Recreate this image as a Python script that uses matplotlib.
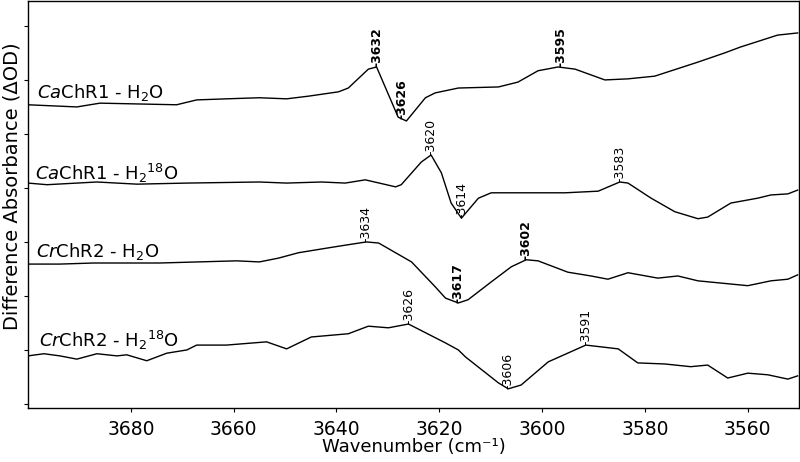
import numpy as np
import matplotlib
matplotlib.use("Agg")
import matplotlib.pyplot as plt

# traces (wavenumber, offset difference absorbance)
x1 = [3700.0, 3690.5, 3686.0, 3671.1, 3667.2, 3661.4, 3655.0, 3649.7, 3645.4, 3639.6,
      3637.7, 3633.8, 3632.2, 3628.0, 3626.4, 3622.7, 3620.8, 3616.3, 3608.5, 3604.7,
      3600.8, 3596.9, 3593.6, 3587.8, 3583.3, 3578.1, 3569.7, 3564.5, 3561.4, 3554.2, 3550.3]
y1 = [5.54, 5.50, 5.57, 5.54, 5.63, 5.65, 5.67, 5.65, 5.70, 5.78,
      5.85, 6.20, 6.24, 5.31, 5.24, 5.67, 5.76, 5.85, 5.87, 5.96,
      6.17, 6.24, 6.20, 6.00, 6.02, 6.07, 6.33, 6.50, 6.61, 6.83, 6.87]

x2 = [3700.0, 3696.3, 3686.6, 3678.8, 3669.1, 3655.0, 3649.7, 3642.9, 3638.3, 3634.4,
      3628.5, 3627.4, 3623.5, 3621.6, 3619.6, 3617.7, 3615.7, 3612.4, 3609.9, 3602.1,
      3595.5, 3589.1, 3584.9, 3583.3, 3578.8, 3574.2, 3569.7, 3567.8, 3563.3, 3558.1,
      3555.5, 3552.2, 3550.3]
y2 = [4.09, 4.06, 4.11, 4.07, 4.09, 4.11, 4.09, 4.11, 4.09, 4.15,
      4.02, 4.06, 4.48, 4.61, 4.28, 3.72, 3.44, 3.81, 3.91, 3.91,
      3.91, 3.94, 4.11, 4.09, 3.81, 3.56, 3.43, 3.46, 3.72, 3.81,
      3.87, 3.89, 3.96]

x3 = [3700.0, 3693.8, 3687.2, 3674.4, 3659.4, 3655.0, 3651.3, 3647.4, 3641.6, 3638.3,
      3634.2, 3631.8, 3625.4, 3620.8, 3618.8, 3616.3, 3614.4, 3609.9, 3606.0, 3603.1,
      3600.8, 3595.0, 3590.5, 3587.2, 3583.3, 3577.5, 3573.6, 3569.7, 3560.0, 3555.5,
      3552.2, 3550.3]
y3 = [2.59, 2.59, 2.61, 2.61, 2.65, 2.63, 2.70, 2.80, 2.89, 2.94,
      3.00, 2.98, 2.63, 2.17, 1.96, 1.87, 1.93, 2.26, 2.54, 2.67,
      2.65, 2.44, 2.37, 2.31, 2.43, 2.33, 2.37, 2.28, 2.19, 2.28,
      2.31, 2.39]

x4 = [3700.0, 3696.9, 3693.8, 3690.5, 3686.6, 3682.7, 3680.8, 3676.9, 3673.0, 3669.1,
      3667.2, 3661.4, 3653.6, 3649.7, 3644.9, 3637.7, 3633.8, 3629.9, 3626.0, 3618.8,
      3616.3, 3614.9, 3608.5, 3606.6, 3604.1, 3598.8, 3591.5, 3585.2, 3581.4, 3576.1,
      3571.1, 3567.8, 3563.9, 3560.0, 3556.1, 3552.2, 3550.3]
y4 = [0.89, 0.93, 0.89, 0.83, 0.93, 0.89, 0.91, 0.80, 0.94, 1.00,
      1.09, 1.09, 1.15, 1.02, 1.24, 1.30, 1.44, 1.41, 1.48, 1.13,
      1.00, 0.87, 0.39, 0.28, 0.35, 0.78, 1.09, 1.02, 0.76, 0.74,
      0.69, 0.72, 0.48, 0.57, 0.54, 0.46, 0.52]

names = [r'$\it{Ca}$ChR1 - H$_2$O', r'$\it{Ca}$ChR1 - H$_2{}^{18}$O',
         r'$\it{Cr}$ChR2 - H$_2$O', r'$\it{Cr}$ChR2 - H$_2{}^{18}$O']
name_x = [3698.3, 3698.6, 3698.4, 3697.9]
name_y = [5.67, 4.15, 2.72, 1.06]

# band labels: (trace index, wavenumber position, text, bold)
band_trace = [0, 0, 0, 1, 1, 1, 2, 2, 2, 3, 3, 3]
band_pos = [3632.2, 3627.2, 3596.3, 3621.6, 3615.7, 3584.9,
            3634.2, 3616.3, 3603.1, 3626.0, 3606.6, 3591.5]
band_text = ['-3632', '-3626', '-3595', '-3620', '-3614', '-3583',
             '-3634', '-3617', '-3602', '-3626', '-3606', '-3591']
band_bold = [True, True, True, False, False, False,
             False, True, True, False, False, False]

xs = [x1, x2, x3, x4]
ys = [y1, y2, y3, y4]

fig = plt.figure(figsize=(8, 4.62), dpi=100)
ax = fig.add_axes([0.035, 0.117, 0.964, 0.881])

for x, y in zip(xs, ys):
    ax.plot(x, y, color='black', lw=1.0)

for i, name in enumerate(names):
    ax.text(name_x[i], name_y[i], name, fontsize=13, ha='left', va='baseline')

for t, p, s, b in zip(band_trace, band_pos, band_text, band_bold):
    yv = np.interp(p, xs[t][::-1], ys[t][::-1])
    ax.text(p, yv, s, rotation=90, ha='center', va='bottom', fontsize=9,
            fontweight='bold' if b else 'normal')

ax.set_xlim(3700, 3550)
ax.set_ylim(-0.074, 7.463)
ax.set_xticks([3680, 3660, 3640, 3620, 3600, 3580, 3560])
ax.set_yticks(range(8))
ax.set_yticklabels([])
ax.tick_params(direction='out', length=3, width=0.8, labelsize=13.5, pad=6)
for sp in ax.spines.values():
    sp.set_linewidth(1.0)

ax.set_xlabel('Wavenumber (cm⁻¹)', fontsize=13, labelpad=-1)
ax.set_ylabel('Difference Absorbance (ΔOD)', fontsize=14)
ax.yaxis.set_label_coords(-0.009, 0.545)

fig.savefig('out.png', dpi=100)
